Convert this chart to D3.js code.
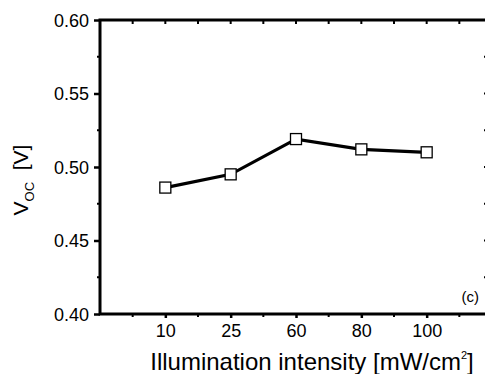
<!DOCTYPE html>
<html><head><meta charset="utf-8">
<script src="https://cdn.jsdelivr.net/npm/d3@7"></script>
<style>body{margin:0;background:#fff}svg{display:block}text{font-family:Arial,"Liberation Sans",sans-serif;fill:#000}</style>
</head><body>
<script>
const categories = ["10","25","60","80","100"];
const voc = [0.486, 0.495, 0.519, 0.512, 0.510];
const yTicks = [0.40, 0.45, 0.50, 0.55, 0.60];

const W = 485, H = 374;
const L = 100, R = 492, T = 20, B = 314;
const svg = d3.select("body").append("svg").attr("width", W).attr("height", H);

const x = d3.scaleLinear().domain([0, 6]).range([L, R]);
const y = d3.scaleLinear().domain([0.40, 0.60]).range([B, T]);

// frame
svg.append("rect").attr("x", L).attr("y", T).attr("width", R - L).attr("height", B - T)
  .attr("fill", "none").attr("stroke", "#000").attr("stroke-width", 3);

// y axis ticks (major outward)
const yAxis = d3.axisLeft(y).tickValues(yTicks).tickSize(6).tickPadding(3).tickFormat(d3.format(".2f"));
const ga = svg.append("g").attr("transform", `translate(${L},0)`).call(yAxis);
ga.select(".domain").remove();
ga.selectAll(".tick line").attr("stroke-width", 2.5);
ga.selectAll(".tick text").style("font-size", "18px").attr("x", -11).attr("dy", "0.35em");
// minor y ticks
const yMinor = d3.range(0, 4).map(i => 0.425 + i * 0.05);
svg.append("g").selectAll("line").data(yMinor).join("line")
  .attr("x1", L - 3).attr("x2", L).attr("y1", d => y(d)).attr("y2", d => y(d))
  .attr("stroke", "#000").attr("stroke-width", 2);
// right axis inward ticks
svg.append("g").selectAll("line").data(yTicks.concat(yMinor)).join("line")
  .attr("x1", R).attr("x2", R - 8).attr("y1", d => y(d)).attr("y2", d => y(d))
  .attr("stroke", "#000").attr("stroke-width", 2);

// x axis
const xAxis = d3.axisBottom(x).tickValues([1,2,3,4,5]).tickSize(4).tickPadding(14)
  .tickFormat(d => categories[d - 1]);
const gx = svg.append("g").attr("transform", `translate(0,${B})`).call(xAxis);
gx.select(".domain").remove();
gx.selectAll(".tick line").attr("stroke-width", 2.5);
gx.selectAll(".tick text").style("font-size", "18px").attr("y", 23).attr("dy", null);
const xMinor = [0.5, 1.5, 2.5, 3.5, 4.5, 5.5];
svg.append("g").selectAll("line").data(xMinor).join("line")
  .attr("x1", d => x(d)).attr("x2", d => x(d)).attr("y1", B).attr("y2", B + 3)
  .attr("stroke", "#000").attr("stroke-width", 2);
// top ticks inward
svg.append("g").selectAll("line").data([1,2,3,4,5].concat(xMinor)).join("line")
  .attr("x1", d => x(d)).attr("x2", d => x(d)).attr("y1", T).attr("y2", T + 4)
  .attr("stroke", "#000").attr("stroke-width", 2);

// data line
const pts = voc.map((v, i) => [x(i + 1), y(v)]);
svg.append("path").attr("d", d3.line()(pts)).attr("fill", "none")
  .attr("stroke", "#000").attr("stroke-width", 3.2);
const s = 11;
svg.append("g").selectAll("rect").data(voc).join("rect")
  .attr("x", (d, i) => x(i + 1) - s / 2).attr("y", d => y(d) - s / 2)
  .attr("width", s).attr("height", s)
  .attr("fill", "#fff").attr("stroke", "#000").attr("stroke-width", 1.3);

// labels
svg.append("text").attr("x", 479).attr("y", 302).attr("text-anchor", "end")
  .style("font-size", "15px").text("(c)");

const xt = svg.append("text").attr("x", 312).attr("y", 370).attr("text-anchor", "middle")
  .style("font-size", "24px");
xt.append("tspan").text("Illumination intensity [mW/cm");
xt.append("tspan").attr("dy", -11).style("font-size", "11px").text("2");
xt.append("tspan").attr("dy", 11).text("]");

const yt = svg.append("text").attr("transform", "translate(28,180) rotate(-90)")
  .attr("text-anchor", "middle").style("font-size", "21px");
yt.append("tspan").text("V");
yt.append("tspan").attr("dy", 6).style("font-size", "13px").text("OC");
yt.append("tspan").attr("dy", -6).text("\u00a0\u00a0[V]");
</script>
</body></html>
